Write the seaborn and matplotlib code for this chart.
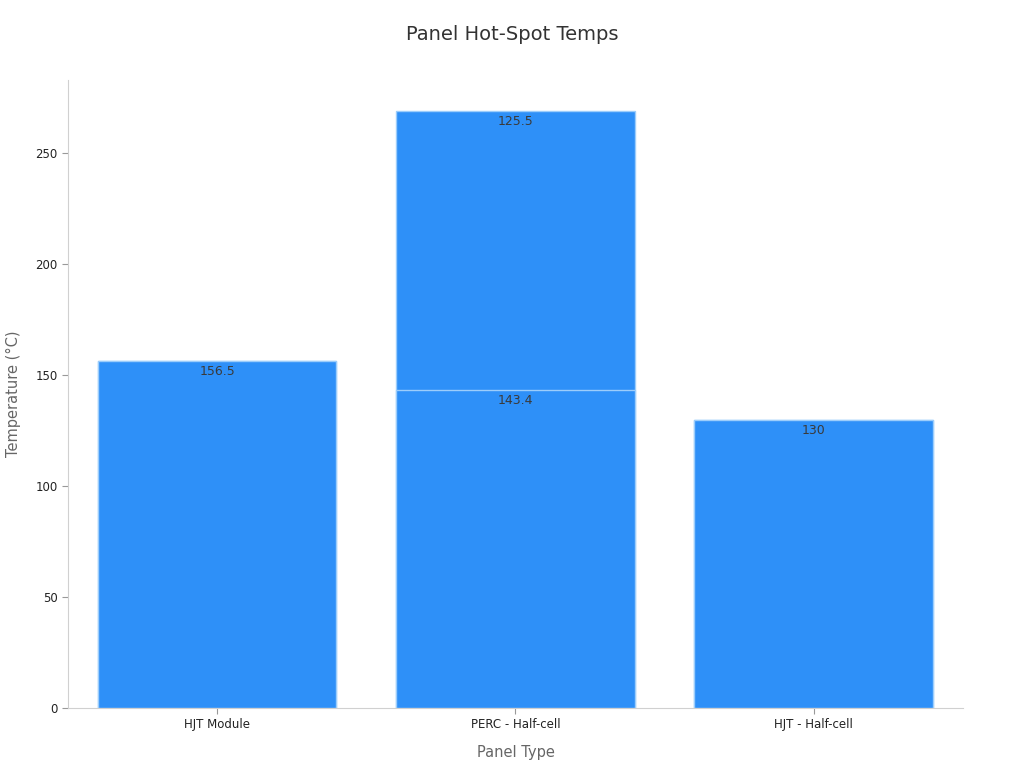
import matplotlib
matplotlib.use("Agg")
import matplotlib.pyplot as plt
import seaborn as sns
import pandas as pd

categories = ["HJT Module", "PERC - Half-cell", "HJT - Half-cell"]
base_values = [156.5, 143.4, 130.0]
upper_values = [0.0, 125.5, 0.0]

totals = [b + u for b, u in zip(base_values, upper_values)]
df = pd.DataFrame({"cat": categories, "base": base_values, "upper": upper_values, "total": totals})

sns.set_theme(style="white")
plt.rcParams["font.family"] = ["DejaVu Sans"]

fig = plt.figure(figsize=(10.24, 7.68), dpi=100)
ax = fig.add_axes([0.0664, 0.078, 0.874, 0.818])

bar_color = "#2E90F8"
edge = "#9CCDFB"
sns.barplot(data=df, x="cat", y="total", color=bar_color, saturation=1, width=0.8,
            edgecolor=edge, linewidth=1.0, ax=ax, errorbar=None)
sns.barplot(data=df, x="cat", y="base", color=bar_color, saturation=1, width=0.8,
            edgecolor=edge, linewidth=1.0, ax=ax, errorbar=None)

for i, (b, u) in enumerate(zip(base_values, upper_values)):
    ax.annotate(f"{b:g}", xy=(i, b), xytext=(0, -3), textcoords="offset points",
                ha="center", va="top", fontsize=9, color="#3a3a3a")
    if u > 0:
        ax.annotate(f"{u:g}", xy=(i, b + u), xytext=(0, -3), textcoords="offset points",
                    ha="center", va="top", fontsize=9, color="#3a3a3a")

ax.set_xlim(-0.5, 2.5)
ax.set_ylim(0, 283)
ax.set_yticks([0, 50, 100, 150, 200, 250])
ax.set_xlabel("Panel Type", fontsize=10.5, color="#666666", labelpad=10)
ax.set_ylabel("Temperature (°C)", fontsize=10.5, color="#666666", labelpad=10)
ax.tick_params(axis="both", bottom=True, left=True, labelsize=8.5, labelcolor="#222222",
               length=4, width=0.8, color="#999999")
ax.tick_params(axis="x", pad=3)
for s in ["top", "right"]:
    ax.spines[s].set_visible(False)
for s in ["left", "bottom"]:
    ax.spines[s].set_color("#d0d0d0")
    ax.spines[s].set_linewidth(0.8)

fig.suptitle("Panel Hot-Spot Temps", fontsize=14, color="#333333", y=0.968)

fig.savefig("out.png", dpi=100)
